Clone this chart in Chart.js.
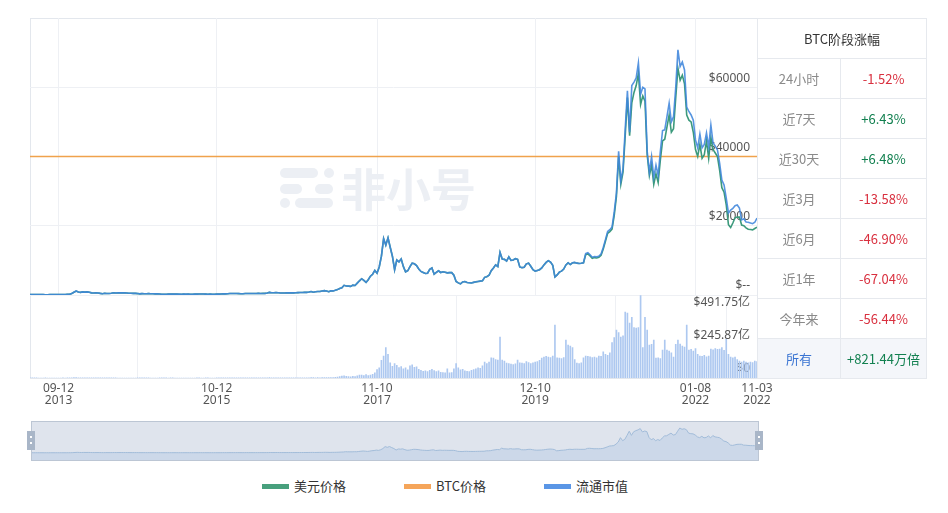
<!DOCTYPE html>
<html>
<head>
<meta charset="utf-8">
<script src="https://cdn.jsdelivr.net/npm/chart.js@4.4.0/dist/chart.umd.min.js"></script>
<style>
  body { margin: 0; background: #fff; font-family: "Noto Sans CJK SC", "Noto Sans", sans-serif; }
  #page { position: relative; width: 948px; height: 513px; overflow: hidden; }
  .abs { position: absolute; }
  #frame { left: 30px; top: 18px; width: 727px; height: 359px; border: 1px solid #e3e7ed; border-right: none; }
  #sep { left: 30px; top: 295px; width: 727px; height: 1px; background: #e3e7ed; }
  #stat { position: absolute; left: 757px; top: 18px; border-collapse: collapse; table-layout: fixed; }
  #stat th, #stat td { border: 1px solid #e6e9ee; height: 39px; padding: 0; text-align: center; font-size: 13px; font-weight: normal; }
  #stat th { color: #333; }
  #stat td.k { color: #8a8a8a; }
  #stat td.dn { color: #d9303f; }
  #stat td.up { color: #128050; }
  #stat tr.all td { background: #f4f6fa; }
  #stat tr.all td.k { color: #3a74d2; }
  #legend { left: 0; top: 476px; width: 948px; height: 20px; }
  .item { position: absolute; top: 0; height: 20px; line-height: 20px; font-size: 13px; color: #333; }
  .sw { position: absolute; top: 8px; width: 27px; height: 5px; }
</style>
</head>
<body>
<div id="page">
  <div id="frame" class="abs"></div>
  <div id="sep" class="abs"></div>
  <canvas id="top" class="abs" width="948" height="296" style="left:0;top:0"></canvas>
  <canvas id="vol" class="abs" width="948" height="120" style="left:0;top:295px"></canvas>
  <canvas id="nav" class="abs" width="948" height="44" style="left:0;top:419px"></canvas>
  <table id="stat">
    <colgroup><col style="width:83px"><col style="width:86px"></colgroup>
    <tr><th colspan="2">BTC阶段涨幅</th></tr>
    <tr><td class="k">24小时</td><td class="dn">-1.52%</td></tr>
    <tr><td class="k">近7天</td><td class="up">+6.43%</td></tr>
    <tr><td class="k">近30天</td><td class="up">+6.48%</td></tr>
    <tr><td class="k">近3月</td><td class="dn">-13.58%</td></tr>
    <tr><td class="k">近6月</td><td class="dn">-46.90%</td></tr>
    <tr><td class="k">近1年</td><td class="dn">-67.04%</td></tr>
    <tr><td class="k">今年来</td><td class="dn">-56.44%</td></tr>
    <tr class="all"><td class="k">所有</td><td class="up">+821.44万倍</td></tr>
  </table>
  <div id="legend" class="abs">
    <div class="item" style="left:262px"><span class="sw" style="left:0;background:#48a07d"></span><span style="margin-left:32px">美元价格</span></div>
    <div class="item" style="left:404px"><span class="sw" style="left:0;background:#f5a55a"></span><span style="margin-left:32px">BTC价格</span></div>
    <div class="item" style="left:544px"><span class="sw" style="left:0;background:#5a96e6"></span><span style="margin-left:32px">流通市值</span></div>
  </div>
</div>
<script>
// BTC, one point every ~10.5 days from 2013-04-28 to 2022-11-03
const priceUsd = [
  135,112,122,129,108,107,97,76,89,106,
  104,114,139,128,128,108,138,190,213,418,
  800,1150,870,750,900,830,900,800,620,580,
  630,590,460,360,500,450,440,520,630,570,
  600,645,620,600,590,500,510,480,475,410,
  320,395,355,340,390,370,375,320,317,290,
  210,235,225,245,260,295,265,250,236,235,
  240,237,240,225,233,243,260,280,290,280,
  257,225,240,232,233,244,262,310,375,326,
  360,415,440,430,448,410,378,380,437,422,
  412,416,420,424,458,448,456,473,575,760,
  630,640,680,655,590,575,573,615,610,605,
  617,630,700,715,730,755,770,860,1000,810,
  925,1010,1000,1170,1270,1170,970,1190,1180,1350,
  1560,1890,2100,2800,2600,2560,2500,2860,2750,3420,
  4100,4700,4200,3630,4400,5430,6000,7100,6300,8100,
  11200,16300,14400,16500,13800,11200,7300,10100,9600,10400,
  8200,6700,7000,8200,9200,9000,8500,7500,6800,6500,
  6200,6300,7400,7800,6000,6500,7000,6500,6700,6550,
  6400,6450,6450,5700,3900,3500,3200,3750,3900,3600,
  3550,3450,3650,3800,3900,4000,4100,5100,5300,5700,
  7000,7800,8700,8200,12300,10400,10300,9800,11000,10000,
  10100,10500,10300,8100,7900,8000,9000,9200,8300,7300,
  6900,7100,7300,7800,8700,9400,9900,9500,8600,5200,
  5800,6600,6900,7500,8700,9300,8800,9300,9400,9200,
  9100,9150,9300,11600,11900,11300,10600,10800,10700,10900,
  11500,13300,15500,17800,18300,19000,23000,28500,40000,32000,
  35500,46000,57000,46000,55500,58500,60500,64000,55000,57500,
  56000,40500,34500,37500,32000,35000,32500,39000,44500,45000,
  48500,52000,47000,48000,57000,65500,62000,63500,61000,52000,
  50500,50000,47000,42000,40000,43500,39500,40500,44500,39500,
  45500,42000,41000,40000,36000,31000,29700,26000,20300,19500,
  20800,22300,22500,22500,20200,20000,19400,19000,18900,18800,
  19200,19600
];

// circulating market cap, 亿 USD
const marketCap = [
  22.6,18.8,20.4,21.6,18.1,17.9,16.2,12.7,14.9,17.8,
  17.4,19.1,23.3,21.4,21.4,18.1,23.1,31.8,35.7,70,
  134,193,146,126,151,139,151,134,104,97,
  106,99,77,60,84,75,74,87,106,95,
  101,108,104,101,99,84,85,80,80,69,
  54,66,59,57,65,62,63,54,53,49,
  35,39,38,41,44,49,44,42,40,39,
  40,40,40,38,39,41,44,47,49,47,
  43,38,40,39,39,41,44,52,63,55,
  60,70,74,72,75,69,63,64,73,71,
  69,70,70,71,77,75,76,79,96,127,
  106,107,114,110,99,96,96,103,102,101,
  103,106,117,120,122,126,129,144,168,136,
  155,169,168,196,213,196,162,199,198,226,
  261,317,352,469,436,429,419,479,461,573,
  687,787,704,608,737,910,1005,1189,1055,1357,
  1876,2730,2412,2764,2312,1876,1223,1692,1608,1742,
  1374,1122,1173,1374,1541,1508,1424,1256,1139,1089,
  1039,1055,1240,1307,1005,1089,1173,1089,1122,1097,
  1072,1080,1080,955,653,586,536,628,653,603,
  595,578,611,637,653,670,687,854,888,955,
  1173,1307,1457,1374,2060,1742,1725,1642,1843,1675,
  1692,1759,1725,1357,1323,1340,1508,1541,1390,1223,
  1156,1189,1223,1307,1457,1575,1658,1591,1441,871,
  972,1106,1156,1256,1457,1558,1474,1558,1575,1541,
  1524,1533,1558,2000,2050,1950,1830,1860,1845,1880,
  1985,2300,2680,3070,3160,3283,4020,4941,6951,5528,
  6114,8040,9883,7873,10134,10301,10502,11223,9715,10050,
  9966,6951,5946,6700,5695,6281,5779,6951,7956,7990,
  8626,9280,8375,8626,10050,11859,11055,11273,10888,9095,
  8878,8710,8459,7504,7119,7789,7119,7286,7839,7152,
  8224,7353,7203,7018,6365,5561,5327,4690,3970,4104,
  4188,4322,4355,4204,3635,3685,3534,3518,3484,3451,
  3518,3719
];

// trading volume, 亿 USD
const volume = [
  0.5,0.4,0.3,0.3,0.2,0.2,0.2,0.3,0.2,0.2,
  0.2,0.2,0.2,0.2,0.2,0.3,0.2,0.4,0.5,1.2,
  2.1,2.6,1.5,0.9,0.8,0.6,0.5,0.6,0.9,0.5,
  0.4,0.4,0.5,0.6,0.4,0.3,0.3,0.3,0.4,0.3,
  0.2,0.2,0.2,0.2,0.2,0.2,0.2,0.2,0.2,0.3,
  0.4,0.3,0.3,0.3,0.3,0.2,0.2,0.2,0.2,0.3,
  0.5,0.4,0.3,0.2,0.3,0.3,0.2,0.2,0.2,0.2,
  0.2,0.2,0.2,0.1,0.2,0.2,0.3,0.3,0.2,0.2,
  0.3,0.4,0.2,0.2,0.2,0.3,0.4,0.8,1.1,0.7,
  0.5,0.6,0.7,0.5,0.5,0.5,0.5,0.5,0.6,0.6,
  0.5,0.5,0.5,0.5,0.6,0.5,0.6,0.8,1.2,1.8,
  1.1,0.8,0.9,0.8,0.7,0.6,0.5,0.6,0.5,0.6,
  0.7,0.7,0.9,0.8,0.8,1.0,1.2,1.6,2.4,1.8,
  1.5,1.8,1.7,2.2,2.6,2.0,2.5,3.2,3.0,4.0,
  6,9,11,13,10,8,7,10,8,13,
  18,17,15,20,14,18,22,30,50,60,
  105,130,180,140,90,70,85,75,62,68,
  55,60,48,72,78,64,66,52,46,40,
  42,38,45,52,44,38,42,34,32,30,
  55,30,32,55,85,60,48,52,42,40,
  38,45,50,55,60,58,72,95,85,95,
  120,118,110,107,243,107,100,88,85,82,
  80,84,107,90,88,86,98,92,85,90,
  95,98,105,118,124,128,124,122,130,314,
  120,118,116,122,225,196,190,180,110,89,
  85,90,120,130,128,125,122,124,120,130,
  128,155,140,135,150,210,240,284,270,243,
  250,391,385,326,361,300,296,300,491.75,180,
  361,284,196,200,225,118,120,115,166,225,
  166,160,150,124,200,225,201,190,184,314,
  166,170,160,175,140,130,128,135,125,130,
  172,168,175,170,172,180,165,230,140,124,
  120,124,110,100,95,100,95,90,95,92,
  100,98
];

const btcPrice = 1; // BTC priced in BTC
const tickIndex = [13, 85, 158, 230, 303, 331];
const tickLabels = [['09-12', '2013'], ['10-12', '2015'], ['11-10', '2017'], ['12-10', '2019'], ['01-08', '2022'], ['11-03', '2022']];
const priceTicks = [0, 20000, 40000, 60000, 80000];
const volumeTicks = [0, 245.87, 491.75];

const idx = priceUsd.map((_, i) => i);
const gridColor = '#eef0f4';

Chart.defaults.font.family = '"Noto Sans", "Noto Sans CJK SC", sans-serif';
Chart.defaults.font.size = 12;
Chart.defaults.color = '#555';

const setTicks = list => axis => { axis.ticks = list.map(v => ({ value: v })); };

// faint site logo behind the lines
const watermark = {
  id: 'watermark',
  beforeDatasetsDraw(chart) {
    const c = chart.ctx;
    c.save();
    c.strokeStyle = c.fillStyle = '#eceff4';
    c.lineCap = 'round';
    c.lineWidth = 10;
    const seg = (x1, x2, y) => { c.beginPath(); c.moveTo(x1, y); c.lineTo(x2, y); c.stroke(); };
    seg(285, 313, 173); seg(329, 329, 173);
    seg(285, 297, 189); seg(320, 328, 189);
    seg(285, 285, 203); seg(300, 328, 203);
    c.font = 'bold 45px "Noto Sans CJK SC"';
    c.textBaseline = 'middle';
    c.fillText('非小号', 341, 190);
    c.restore();
  }
};

new Chart(document.getElementById('top'), {
  type: 'line',
  data: {
    labels: idx,
    datasets: [
      { label: '流通市值', data: marketCap, yAxisID: 'yCap', borderColor: 'rgba(64,134,220,0.88)', borderWidth: 1.6, pointRadius: 0, order: 0 },
      { label: '美元价格', data: priceUsd, yAxisID: 'y', borderColor: '#3c9a7c', borderWidth: 1.6, pointRadius: 0, order: 1 },
      { label: 'BTC价格', data: [{ x: 0, y: btcPrice }, { x: 331, y: btcPrice }], yAxisID: 'yBtc', borderColor: '#f0a24c', borderWidth: 1.3, pointRadius: 0, order: 2 }
    ]
  },
  options: {
    responsive: false,
    animation: false,
    layout: { padding: { left: 30, right: 191, top: 18, bottom: 1 } },
    plugins: { legend: { display: false }, tooltip: { enabled: false } },
    scales: {
      x: {
        offset: false,
        afterBuildTicks: setTicks(tickIndex),
        afterFit: axis => { axis.height = 0; },
        ticks: { display: false },
        grid: { color: gridColor, drawTicks: false },
        border: { display: false }
      },
      y: {
        position: 'right',
        min: 0, max: 80000,
        afterBuildTicks: setTicks(priceTicks),
        afterFit: axis => { axis.width = 0; },
        ticks: { mirror: true, padding: -7, labelOffset: -9, color: '#555',
          callback: v => v === 80000 ? null : (v === 0 ? '$--' : '$' + v) },
        grid: { color: gridColor, drawTicks: false },
        border: { display: false }
      },
      yBtc: { display: false, min: 0, max: 2 },
      yCap: { display: false, min: 0, max: 13400 }
    }
  },
  plugins: [watermark]
});

new Chart(document.getElementById('vol'), {
  type: 'bar',
  data: {
    labels: idx,
    datasets: [{ label: '成交额', data: volume, backgroundColor: '#adc8f0', barThickness: 1, yAxisID: 'y' }]
  },
  options: {
    responsive: false,
    animation: false,
    layout: { padding: { left: 30, right: 191, top: 0, bottom: 0 } },
    plugins: { legend: { display: false }, tooltip: { enabled: false } },
    scales: {
      x: {
        offset: false,
        afterBuildTicks: setTicks(tickIndex),
        afterFit: axis => { axis.height = 37; },
        ticks: { autoSkip: false, maxRotation: 0, minRotation: 0, padding: 4, color: '#555',
          font: { size: 12, lineHeight: 1.05 },
          callback: (v, i) => tickLabels[i] },
        grid: { color: gridColor, drawTicks: false },
        border: { display: false }
      },
      y: { display: false, min: 0, max: 491.75 },
      yLabel: {
        position: 'right',
        min: -66, max: 543,
        afterBuildTicks: setTicks(volumeTicks),
        afterFit: axis => { axis.width = 0; },
        ticks: { mirror: true, padding: -7, color: '#555',
          callback: v => v === 0 ? '$0' : '$' + v.toFixed(2) + '亿' },
        grid: { display: false },
        border: { display: false }
      }
    }
  }
});

// range slider under the chart
const sliderFrame = {
  id: 'sliderFrame',
  beforeDatasetsDraw(chart) {
    const { ctx, chartArea: a } = chart;
    ctx.save();
    ctx.fillStyle = '#dfe4ed';
    ctx.fillRect(a.left, a.top, a.right - a.left, a.bottom - a.top);
    ctx.restore();
  },
  afterDraw(chart) {
    const { ctx, chartArea: a } = chart;
    ctx.save();
    ctx.strokeStyle = '#bcc6d4';
    ctx.lineWidth = 1;
    ctx.strokeRect(a.left + 0.5, a.top + 0.5, a.right - a.left - 1, a.bottom - a.top - 1);
    [a.left, a.right].forEach(x => {
      ctx.fillStyle = '#a9b6c8';
      ctx.fillRect(x - 4, a.top + 10, 8, 19);
      ctx.fillStyle = '#ffffff';
      ctx.fillRect(x - 1, a.top + 15, 2, 2);
      ctx.fillRect(x - 1, a.top + 21, 2, 2);
    });
    ctx.restore();
  }
};

new Chart(document.getElementById('nav'), {
  type: 'line',
  data: {
    labels: idx,
    datasets: [{ data: priceUsd, borderColor: '#a2bcd9', borderWidth: 1, pointRadius: 0, fill: 'start', backgroundColor: 'rgba(170,196,226,0.35)' }]
  },
  options: {
    responsive: false,
    animation: false,
    layout: { padding: { left: 31, right: 189, top: 2, bottom: 2 } },
    plugins: { legend: { display: false }, tooltip: { enabled: false } },
    scales: {
      x: { display: false, offset: false },
      y: { display: false, min: -21700, max: 84000 }
    }
  },
  plugins: [sliderFrame]
});
</script>
</body>
</html>
